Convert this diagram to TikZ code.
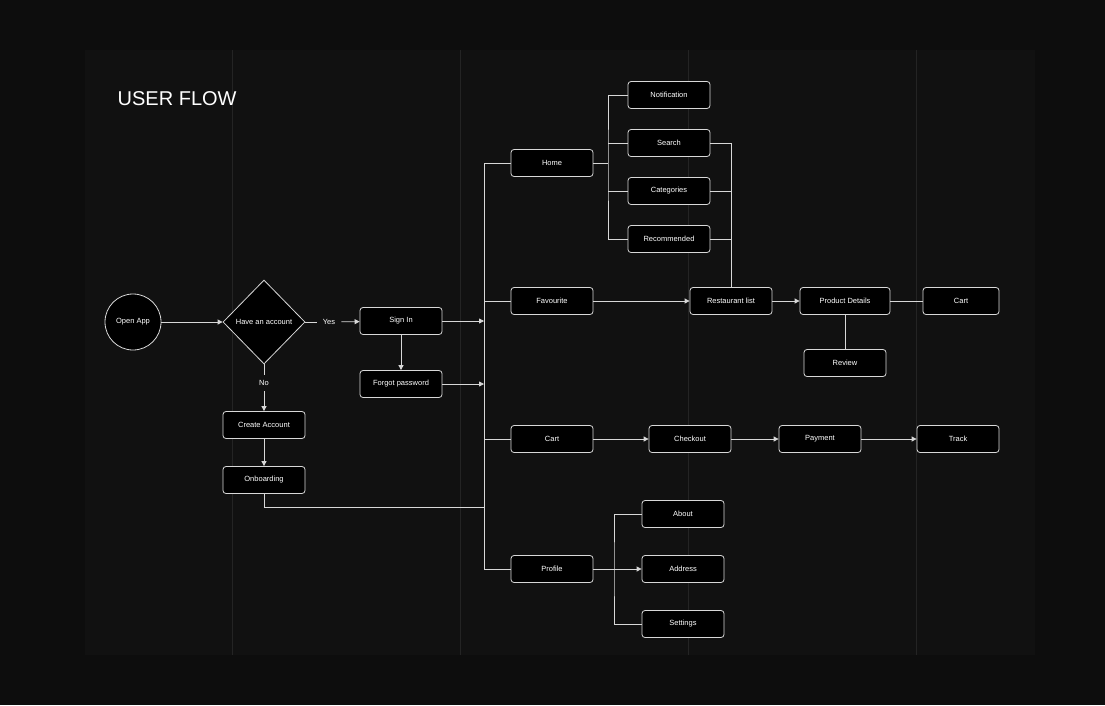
\documentclass[tikz,border=0pt]{standalone}
\usepackage{fontspec}
\setmainfont{Liberation Sans}
\usetikzlibrary{calc}
\usetikzlibrary{positioning}
\usetikzlibrary{shapes.geometric}
\usetikzlibrary{arrows.meta}
\definecolor{bgout}{HTML}{0D0D0D}
\definecolor{bgin}{HTML}{111111}
\definecolor{gridline}{HTML}{242424}
\definecolor{edge}{HTML}{D8D8D8}
\begin{document}
\begin{tikzpicture}[x=1pt,y=-1pt]
\fontsize{7.5}{9}\selectfont

\tikzset{box/.style={draw=edge, thick, fill=black, text=white, rounded corners=3pt, minimum height=27pt, minimum width=82pt, inner sep=1pt},
	link/.style={draw=edge, thick},
	arr/.style={link, -{Triangle[length=5pt,width=5pt]}}}

\fill[bgout] (0,0) rectangle (1105,705);
\useasboundingbox (0,0) rectangle (1105,705);
\fill[bgin] (85,50) rectangle (1035,655);
\foreach \gx in {232,460,688,916}
	\draw[gridline] (\gx,50) -- (\gx,655);

\node[text=white, anchor=west, font=\fontsize{20}{22}\selectfont] (title) at (115,99) {USER FLOW};

\node[circle, draw=edge, thick, fill=black, text=white, minimum size=56pt, inner sep=0pt] (openapp) at (133,322) {Open App};
\node[diamond, draw=edge, thick, fill=black, text=white, minimum width=82pt, minimum height=84pt, inner sep=0pt] (account) at (264,322) {Have an account};
\node[box] (signin) at (401,321) {Sign In};
\node[box] (forgot) at (401,384) {Forgot password};
\node[box] (create) at (264,425) {Create Account};
\node[box] (onboard) at (264,480) {Onboarding};

\node[box] (home) at (552,163) {Home};
\node[box] (favourite) at (552,301) {Favourite};
\node[box] (cart) at (552,439) {Cart};
\node[box] (profile) at (552,569) {Profile};

\node[box] (notification) at (669,95) {Notification};
\node[box] (search) at (669,143) {Search};
\node[box] (categories) at (669,191) {Categories};
\node[box] (recommended) at (669,239) {Recommended};

\node[box] (restaurant) at (731,301) {Restaurant list};
\node[box, minimum width=90pt] (product) at (845,301) {Product Details};
\node[box, minimum width=76pt] (cartb) at (961,301) {Cart};
\node[box] (review) at (845,363) {Review};

\node[box] (checkout) at (690,439) {Checkout};
\node[box] (payment) at (820,439) {Payment};
\node[box] (track) at (958,439) {Track};

\node[box] (about) at (683,514) {About};
\node[box] (address) at (683,569) {Address};
\node[box] (settings) at (683,624) {Settings};

\node[text=white, fill=bgin, inner sep=6pt] (yes) at (329,322) {Yes};
\node[text=white, fill=bgin, inner sep=5pt] (no) at (264,383) {No};

\coordinate (trunktop) at (484,163);
\coordinate (trunkbot) at (484,569);
\coordinate (homesplit) at (608,163);
\coordinate (profsplit) at (614,569);

% left part
\draw[arr] (openapp) -- (account);
\draw[link] (account) -- (yes);
\draw[arr] (yes) -- (signin);
\draw[link] (account) -- (no);
\draw[arr] (no) -- (create);
\draw[arr] (create) -- (onboard);
\draw[arr] (signin) -- (forgot);
\draw[arr] (signin.east) -- (484,321);
\draw[arr] (forgot.east) -- (484,384);
\draw[link] (onboard.south) |- (484,507);

% trunk
\draw[link] (home.west) -| (trunktop) -- (trunkbot) -- (profile.west)
	(484,301) -- (favourite.west)
	(484,439) -- (cart.west);

% home branches
\draw[link] (home.east) -- (homesplit)
	(notification.west) -| (homesplit) |- (recommended.west)
	(search.west) -- (search.west -| homesplit)
	(categories.west) -- (categories.west -| homesplit);
\draw[link] (search.east) -| (restaurant.north)
	(categories.east) -- (categories.east -| restaurant.north)
	(recommended.east) -- (recommended.east -| restaurant.north);

% restaurant flow
\draw[arr] (favourite) -- (restaurant);
\draw[arr] (restaurant) -- (product);
\draw[link] (product) -- (cartb);
\draw[link] (product) -- (review);

% cart flow
\draw[arr] (cart) -- (checkout);
\draw[arr] (checkout) -- (payment);
\draw[arr] (payment) -- (track);

% profile branches
\draw[arr] (profile) -- (address);
\draw[link] (about.west) -| (profsplit) |- (settings.west);
\end{tikzpicture}
\end{document}
